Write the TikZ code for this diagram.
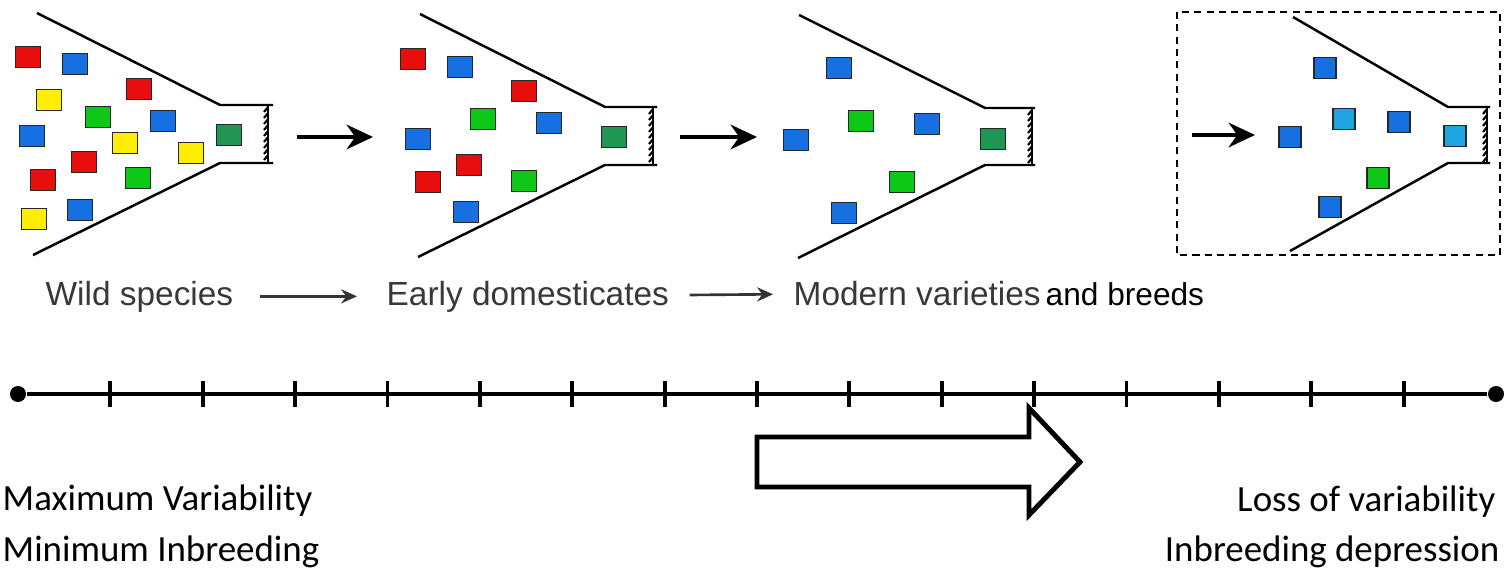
\documentclass[tikz,border=0pt]{standalone}
\usepackage{fontspec}
\setmainfont{Liberation Sans}
\newfontfamily\calibri{Carlito}
\usepackage{tikz}
\usetikzlibrary{arrows.meta}

\definecolor{sred}{RGB}{232,14,14}
\definecolor{sblue}{RGB}{22,112,226}
\definecolor{syellow}{RGB}{255,238,0}
\definecolor{sgreen}{RGB}{14,200,24}
\definecolor{sdkgreen}{RGB}{32,150,82}
\definecolor{scyan}{RGB}{30,165,225}

\tikzset{
  seed/.style={draw=black!85, line width=0.55pt, inner sep=0, minimum width=0.25cm, minimum height=0.21cm},
  funnel/.style={line width=0.7pt},
  bigarrow/.style={line width=1.1pt, -{Stealth[length=7.5pt,width=7pt]}},
  lblarrow/.style={line width=0.75pt, black!80, -{Stealth[length=4.5pt,width=4pt]}},
  lbl/.style={inner sep=0, text=black!78, font=\fontsize{9.5}{11}\selectfont},
  note/.style={inner sep=0, font=\calibri\fontsize{10.5}{12}\selectfont},
  dot/.style={circle, fill, inner sep=0, minimum size=0.16cm}
}

\begin{document}
\begin{tikzpicture}[x=0.01cm,y=-0.01cm]
		\useasboundingbox (0,0) rectangle (1510,570);

		% Wild species
		\draw[funnel] (37,13) -- (220,105) -- (273,105);
		\draw[funnel] (33,255) -- (220,163) -- (273,163);
		\draw[funnel] (268,105) -- (268,163);
		\foreach \y in {107,113,...,157} \draw[semithick] (268,\y) -- ++(-4,5);
		\foreach \x/\y/\c [count=\i] in {28/57/sred, 75/64/sblue, 139/89/sred, 49/100/syellow,
			98/117/sgreen, 163/121/sblue, 32/136/sblue, 125/143/syellow, 191/153/syellow,
			84/162/sred, 43/180/sred, 138/178/sgreen, 80/210/sblue, 34/219/syellow}
			\node[seed, fill=\c] (w\i) at (\x,\y) {};
		\node[seed, fill=sdkgreen] (wout) at (229,135) {};

		% Early domesticates
		\draw[funnel] (420,14) -- (605,107) -- (657,107);
		\draw[funnel] (418,257) -- (605,165) -- (657,165);
		\draw[funnel] (653,107) -- (653,165);
		\foreach \y in {109,115,...,159} \draw[semithick] (653,\y) -- ++(-4,5);
		\foreach \x/\y/\c [count=\i] in {413/59/sred, 460/67/sblue, 524/91/sred, 483/119/sgreen,
			549/123/sblue, 418/139/sblue, 469/165/sred, 428/182/sred, 524/181/sgreen, 466/212/sblue}
			\node[seed, fill=\c] (e\i) at (\x,\y) {};
		\node[seed, fill=sdkgreen] (eout) at (614,137) {};

		% Modern varieties
		\draw[funnel] (799,15) -- (985,108) -- (1035,108);
		\draw[funnel] (798,258) -- (985,165) -- (1035,165);
		\draw[funnel] (1032,108) -- (1032,165);
		\foreach \y in {110,116,...,160} \draw[semithick] (1032,\y) -- ++(-4,5);
		\foreach \x/\y/\c [count=\i] in {839/68/sblue, 861/121/sgreen, 927/124/sblue,
			796/140/sblue, 902/182/sgreen, 844/213/sblue}
			\node[seed, fill=\c] (m\i) at (\x,\y) {};
		\node[seed, fill=sdkgreen] (mout) at (993,139) {};

		% Breeds (dashed box)
		\draw[dashed, dash pattern=on 2pt off 1.5pt, line width=0.6pt] (1177,12) rectangle (1500,255);
		\draw[funnel] (1293,17) -- (1448,107) -- (1490,107);
		\draw[funnel] (1290,251) -- (1448,163) -- (1490,163);
		\draw[funnel] (1487,107) -- (1487,163);
		\foreach \y in {109,115,...,157} \draw[semithick] (1487,\y) -- ++(-4,5);
		\foreach \x/\y/\c [count=\i] in {1325/68/sblue, 1344/119/scyan, 1399/122/sblue,
			1290/137/sblue, 1378/178/sgreen, 1330/207/sblue}
			\node[seed, minimum width=0.22cm, fill=\c] (b\i) at (\x,\y) {};
		\node[seed, minimum width=0.22cm, fill=scyan] (bout) at (1455,136) {};

		% Arrows between stages
		\coordinate (a1s) at (297,137);
		\coordinate (a1e) at (373,137);
		\coordinate (a2s) at (680,137);
		\coordinate (a2e) at (757,137);
		\coordinate (a3s) at (1192,135);
		\coordinate (a3e) at (1255,135);
		\draw[bigarrow] (a1s) -- (a1e);
		\draw[bigarrow] (a2s) -- (a2e);
		\draw[bigarrow] (a3s) -- (a3e);

		% Labels
		\node[lbl, anchor=base west] (wild) at (45,305) {Wild species};
		\node[lbl, anchor=base west] (early) at (386,305) {Early domesticates};
		\node[lbl, anchor=base west] (modern) at (793,305) {Modern varieties};
		\node[anchor=base west, inner sep=0, font=\fontsize{9}{11}\selectfont] (breeds) at (1045,305) {and breeds};
		\draw[lblarrow, shorten <=0.26cm, shorten >=0.29cm] (wild) -- (early);
		\draw[lblarrow, shorten <=0.2cm, shorten >=0.2cm] (early) -- (modern);

		% Time line
		\node[dot] (tl) at (18,394) {};
		\node[dot] (tr) at (1496,394) {};
		\draw[line width=1.1pt] (tl) -- (tr);
		\foreach \k in {1,...,15} \draw[line width=1.1pt] ({18+\k*92.375},381) -- ++(0,26);

		% Direction of loss
		\draw[line width=1.4pt] (757,437) -- (1029,437) -- (1029,408) -- (1080,462)
			-- (1029,515) -- (1029,487) -- (757,487) -- cycle;

		% End notes
		\node[note, anchor=base west] (maxvar) at (2,510) {Maximum Variability};
		\node[note, anchor=base west] (mininb) at (2,561) {Minimum Inbreeding};
		\node[note, anchor=base east] (lossvar) at (1496,511) {Loss of variability};
		\node[note, anchor=base east] (inbdep) at (1500,561) {Inbreeding depression};
	\end{tikzpicture}
\end{document}
